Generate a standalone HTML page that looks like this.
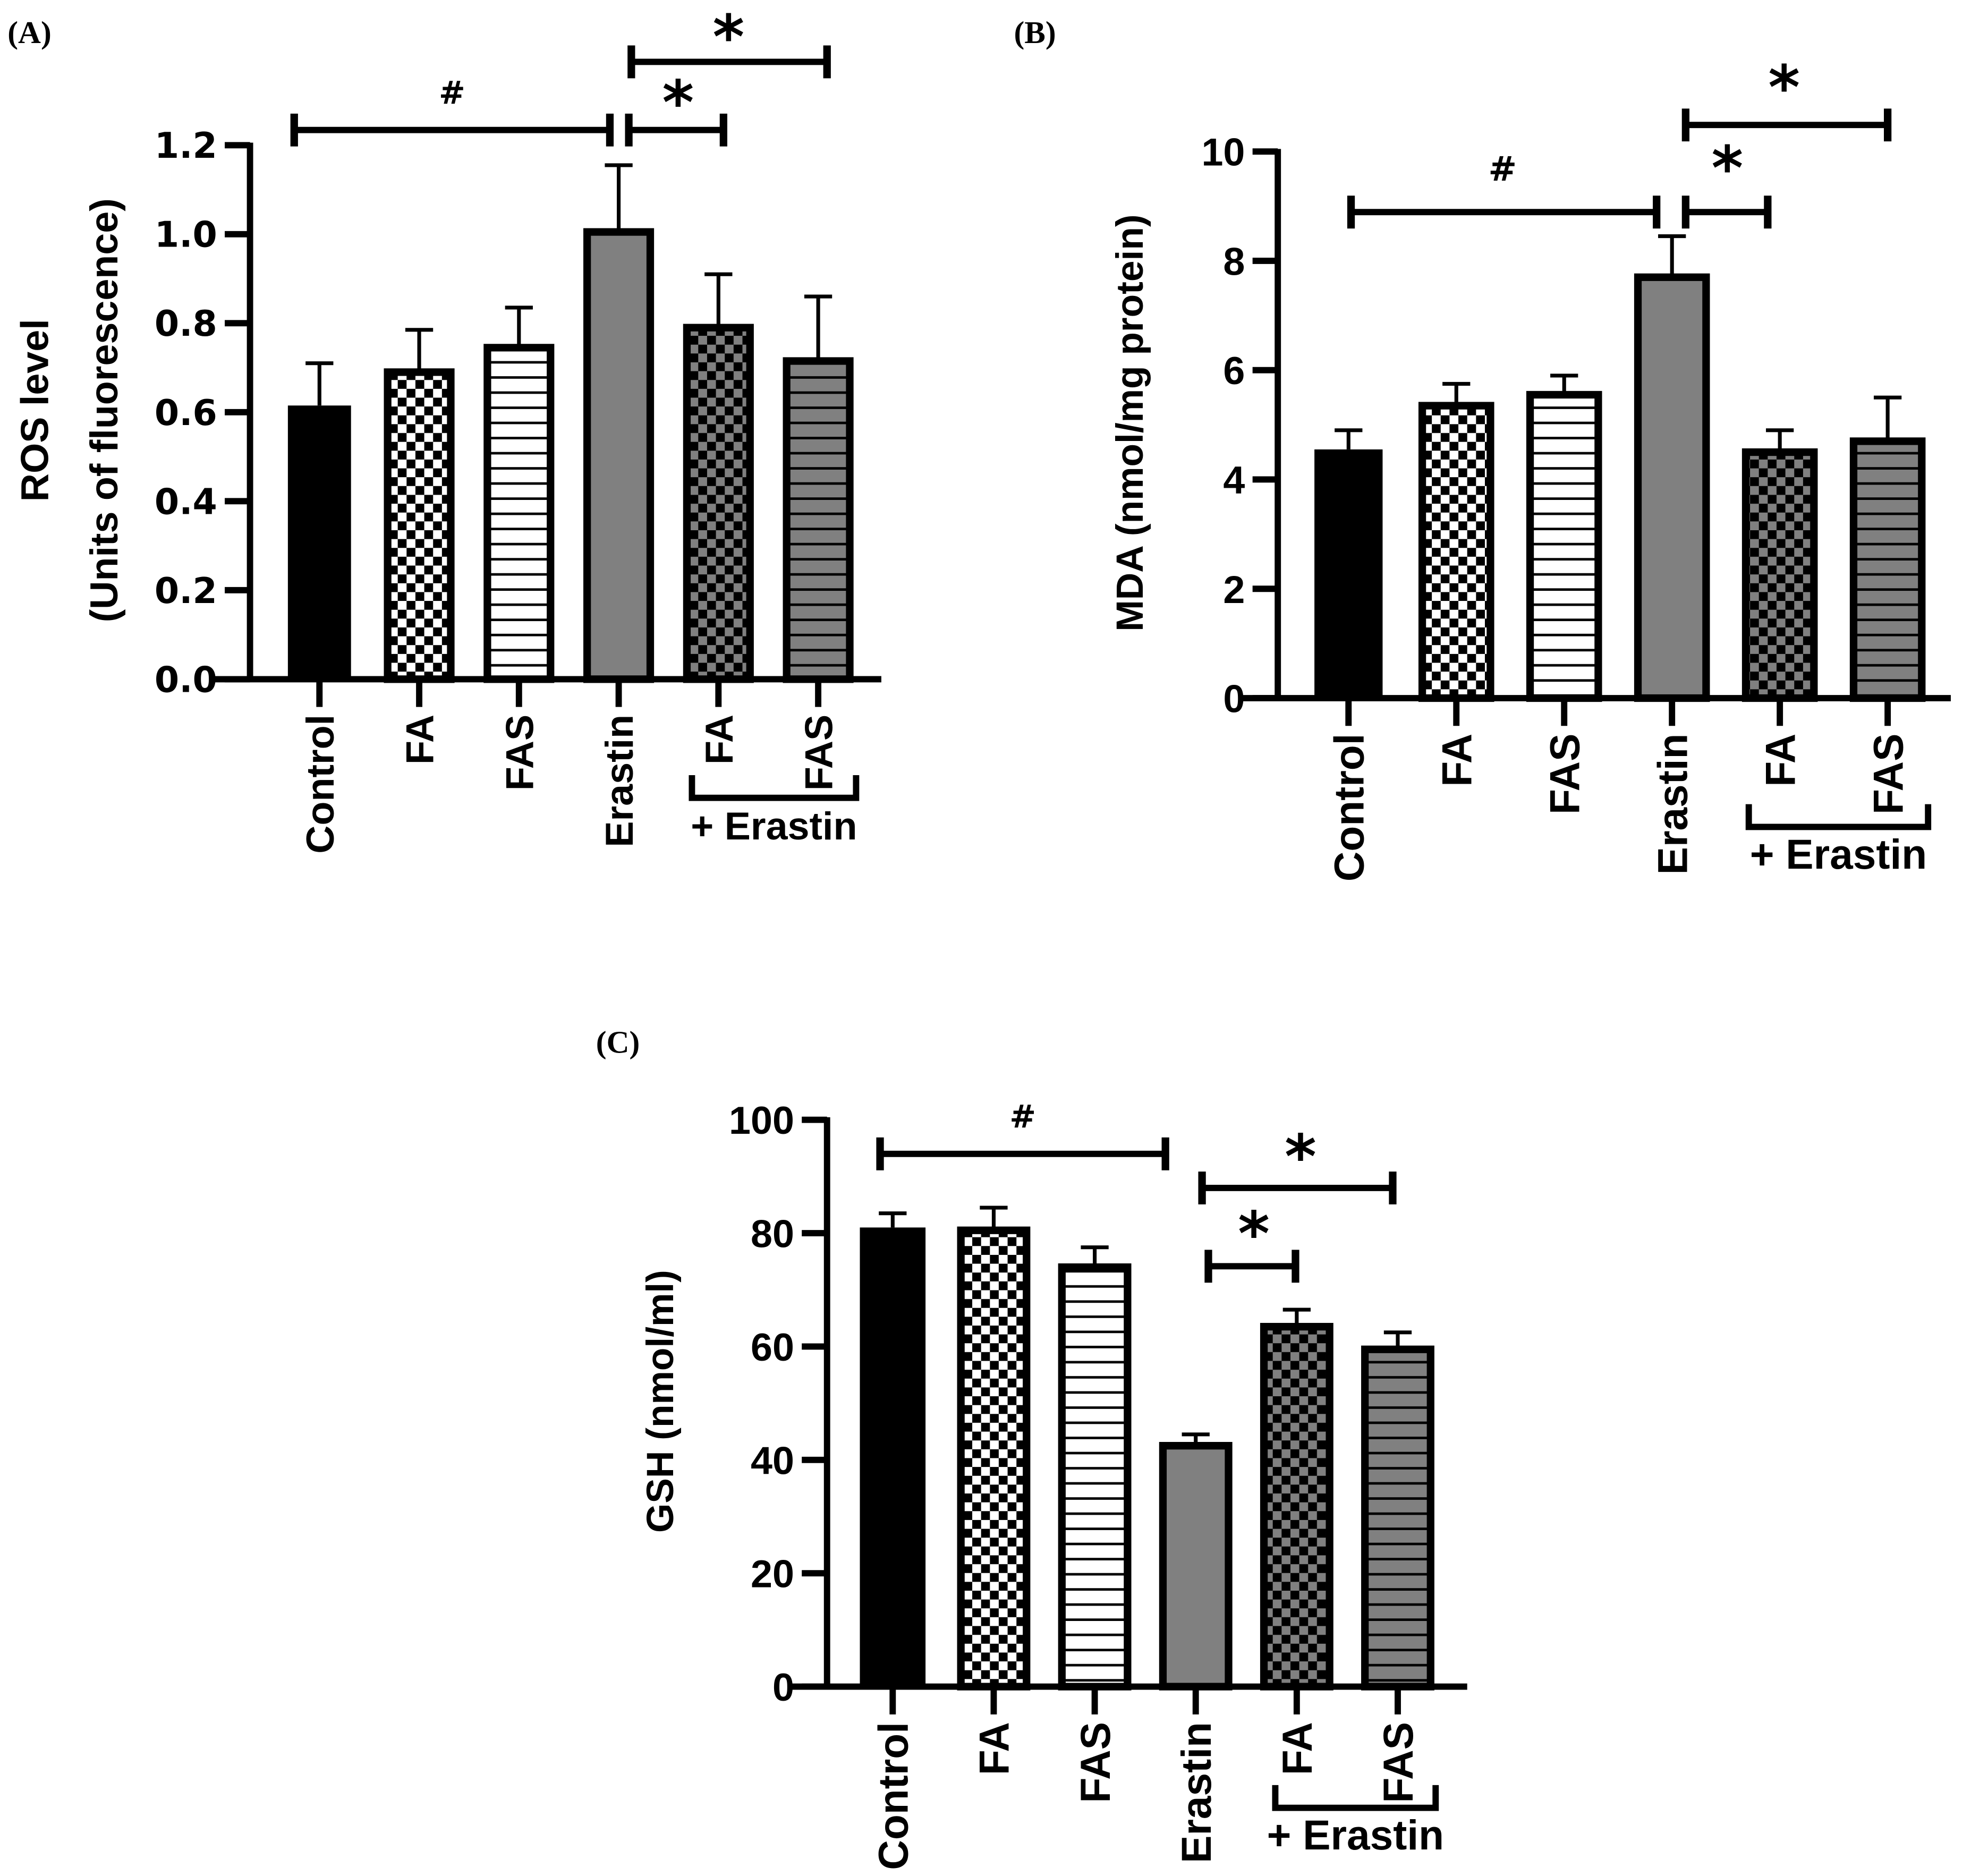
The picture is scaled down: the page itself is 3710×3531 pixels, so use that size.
<!DOCTYPE html>
<html><head><meta charset="utf-8"><style>
html,body{margin:0;padding:0;background:#fff}
svg{display:block}
text{font-family:"DejaVu Sans","Liberation Sans",sans-serif;font-weight:bold;fill:#000}
</style></head><body>
<svg id="fig" width="3710" height="3531" viewBox="0 0 1561 1486" preserveAspectRatio="none" xmlns="http://www.w3.org/2000/svg">
<defs>
<pattern id="chkBW" width="14" height="14" patternUnits="userSpaceOnUse"><rect width="14" height="14" fill="#fff"/><rect width="7" height="7" fill="#000"/><rect x="7" y="7" width="7" height="7" fill="#000"/></pattern>
<pattern id="chkBG" width="14" height="14" patternUnits="userSpaceOnUse"><rect width="14" height="14" fill="#808080"/><rect width="7" height="7" fill="#000"/><rect x="7" y="7" width="7" height="7" fill="#000"/></pattern>
<pattern id="strW" width="10" height="12" patternUnits="userSpaceOnUse"><rect width="10" height="12" fill="#fff"/><rect y="10" width="10" height="2" fill="#000"/></pattern>
<pattern id="strG" width="10" height="12" patternUnits="userSpaceOnUse"><rect width="10" height="12" fill="#808080"/><rect y="10" width="10" height="2" fill="#000"/></pattern>
</defs>
<g id="root"></g>
</svg>
<script>
const categories = ["Control","FA","FAS","Erastin","FA","FAS"];
const rosValues = [0.615, 0.69, 0.745, 1.005, 0.79, 0.715];
const rosErrors = [0.71, 0.785, 0.835, 1.155, 0.91, 0.86];
const rosTicks = ["0.0","0.2","0.4","0.6","0.8","1.0","1.2"];
const mdaValues = [4.55, 5.35, 5.55, 7.7, 4.5, 4.7];
const mdaErrors = [4.9, 5.75, 5.9, 8.45, 4.9, 5.5];
const mdaTicks = ["0","2","4","6","8","10"];
const gshValues = [81, 80.5, 74, 42.5, 63.5, 59.5];
const gshErrors = [83.5, 84.5, 77.5, 44.5, 66.5, 62.5];
const gshTicks = ["0","20","40","60","80","100"];
const fills = ["#000","url(#chkBW)","url(#strW)","#808080","url(#chkBG)","url(#strG)"];
const NS="http://www.w3.org/2000/svg";
const root=document.getElementById('root');
function mk(tag,attrs,parent,txt){const e=document.createElementNS(NS,tag);for(const k in attrs)e.setAttribute(k,attrs[k]);if(txt!==undefined)e.textContent=txt;(parent||root).appendChild(e);return e;}
function line(g,x1,y1,x2,y2,w){return mk('line',{x1,y1,x2,y2,stroke:'#000','stroke-width':w},g);}
function sigBar(g,x1,x2,y,sym,sx,sy,fs,name){
  const s=mk('g',{},g);
  
  
  line(s,x1,y,x2,y,5);line(s,x1,y-13,x1,y+13,6);line(s,x2,y-13,x2,y+13,6);
  mk('text',{x:sx,y:sy,'text-anchor':'middle','font-size':fs},s,sym);
}
function panel(p){
  const g=mk('g',{});
  
  
  const yS=v=>p.y0-(v-p.min)/(p.max-p.min)*(p.y0-p.y1);
  const ax=mk('g',{},g);
  
  
  line(ax,p.ax,p.y1-2,p.ax,p.y0+2,5);
  p.ticks.forEach((t,i)=>{const v=p.min+i*p.step;const y=yS(v);line(ax,p.ax-20,y,p.ax,y,5);
    const tl=mk('text',{x:p.ax-26,y:y+p.tfs*0.36,'text-anchor':'end','font-size':p.tfs,style:'font-family:'+p.font},ax,t);
    
    });
  const xa=mk('g',{},g);
  
  
  line(xa,p.ax-28,p.y0,p.axEnd,p.y0,5);
  const xc=i=>p.x0+i*p.dx;
  categories.forEach((c,i)=>{
    line(xa,xc(i),p.y0,xc(i),p.y0+22,5);
    const tl=mk('text',{x:0,y:0,'text-anchor':'end','font-size':p.lfs,transform:`translate(${xc(i)+p.lfs*0.36},${p.y0+28}) rotate(-90)`,style:'font-family:"Liberation Sans",sans-serif'},xa,c);
    
    
    const bw=p.bw, top=yS(p.vals[i]);
    const b=mk('rect',{x:xc(i)-bw/2,y:top,width:bw,height:p.y0-top,fill:fills[i],stroke:'#000','stroke-width':i===0?0:6},g);
    
    
    const et=yS(p.errs[i]);
    const e=mk('g',{},g);
    
    
    line(e,xc(i),top,xc(i),et,3);line(e,xc(i)-11,et,xc(i)+11,et,3);
  });
  const br=mk('g',{},g);
  
  
  mk('path',{d:`M${p.brX1},${p.brY-18} V${p.brY} H${p.brX2} V${p.brY-18}`,fill:'none',stroke:'#000','stroke-width':5},br);
  mk('text',{x:(p.brX1+p.brX2)/2,y:p.brY+33,'text-anchor':'middle','font-size':p.lfs,style:'font-family:"Liberation Sans",sans-serif'},br,'+ Erastin');
  p.ytitle.forEach((t,k)=>{const yt=mk('text',{x:0,y:0,'text-anchor':'middle','font-size':p.yfs,transform:`translate(${p.ytX[k]},${p.ytY}) rotate(-90)`,style:'font-family:"Liberation Sans",sans-serif'},g,t);
    
    });
  const pl=mk('text',{x:p.lab[0],y:p.lab[1],'font-size':25,style:'font-family:"Liberation Serif",serif'},g,p.lab[2]);
  
  
  p.sigs.forEach(s=>sigBar(g,...s));
}
panel({name:'panel-a-ros',vals:rosValues,errs:rosErrors,ticks:rosTicks,min:0,max:1.2,step:0.2,ax:198,y0:538,y1:115,axEnd:698,x0:253,dx:79,bw:50,tfs:28,lfs:31,yfs:31,font:'"DejaVu Sans",sans-serif',
  brX1:548,brX2:678,brY:632,ytitle:['ROS level','(Units of fluorescence)'],ytX:[38,93],ytY:325,lab:[6,34,'(A)'],
  sigs:[[233,483,103,'#',358,82,25,'sig-hash'],[498,573,103,'*',537,98,48,'sig-star-fa'],[500,655,49,'*',577,46,48,'sig-star-fas']]});
panel({name:'panel-b-mda',vals:mdaValues,errs:mdaErrors,ticks:mdaTicks,min:0,max:10,step:2,ax:1012,y0:553,y1:120,axEnd:1545,x0:1068,dx:85.4,bw:54,tfs:31,lfs:33,yfs:30,font:'"Liberation Sans",sans-serif',
  brX1:1385,brX2:1527,brY:655,ytitle:['MDA (nmol/mg protein)'],ytX:[905],ytY:335,lab:[803,34,'(B)'],
  sigs:[[1070,1312,168,'#',1190,143,27,'sig-hash'],[1335,1400,168,'*',1368,150,48,'sig-star-fa'],[1335,1495,99,'*',1413,86,48,'sig-star-fas']]});
panel({name:'panel-c-gsh',vals:gshValues,errs:gshErrors,ticks:gshTicks,min:0,max:100,step:20,ax:655,y0:1336,y1:887,axEnd:1162,x0:707,dx:80,bw:52,tfs:31,lfs:33,yfs:30,font:'"Liberation Sans",sans-serif',
  brX1:1010,brX2:1137,brY:1432,ytitle:['GSH (nmol/ml)'],ytX:[533],ytY:1110,lab:[472,834,'(C)'],
  sigs:[[697,923,914,'#',810,893,25,'sig-hash'],[952,1103,941,'*',1030,933,48,'sig-star-fas'],[957,1026,1003,'*',993,994,48,'sig-star-fa']]});
</script>
</body></html>
